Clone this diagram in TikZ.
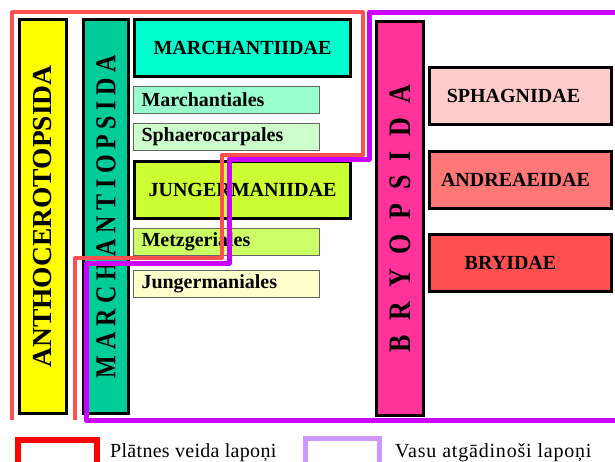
\documentclass[tikz,border=0pt]{standalone}
\usepackage{fontspec}
\setmainfont{Liberation Serif}
\usetikzlibrary{positioning}
\definecolor{plred}{HTML}{FF5050}
\definecolor{vaspurple}{HTML}{CC00FF}
\definecolor{legred}{HTML}{FF0000}
\definecolor{leglilac}{HTML}{CC99FF}
\definecolor{anthyellow}{HTML}{FFFF00}
\definecolor{marchteal}{HTML}{00CC99}
\definecolor{marchaqua}{HTML}{00FFCC}
\definecolor{marchlight}{HTML}{99FFCC}
\definecolor{sphaerolight}{HTML}{CCFFCC}
\definecolor{jungerlime}{HTML}{CCFF33}
\definecolor{metzglime}{HTML}{CCFF66}
\definecolor{jungcream}{HTML}{FFFFCC}
\definecolor{bryopink}{HTML}{FF3399}
\definecolor{sphagnpink}{HTML}{FFCCCC}
\definecolor{andresalmon}{HTML}{FF7777}
\definecolor{bryired}{HTML}{FF5050}
\tikzset{
  classbox/.style={draw=black, line width=3pt, inner sep=0pt, font=\fontsize{20}{24}\selectfont\bfseries},
  ordbox/.style={draw=black!60, line width=1pt, inner ysep=0pt, inner xsep=8pt, text width=170pt, align=left, minimum height=27pt, font=\fontsize{20}{24}\selectfont\bfseries},
  tallbox/.style={classbox, rotate=90, minimum width=394pt},
  legtext/.style={anchor=base west, inner sep=0pt, font=\fontsize{20}{24}\selectfont}
}
\newcommand{\spreadword}[2]{\makebox[#1][s]{#2}}
\begin{document}
\begin{tikzpicture}[x=1pt,y=-1pt]
\clip (0,0) rectangle (615,461);
\fill[white] (0,0) rectangle (615,461);
% classes
\node[tallbox, fill=anthyellow, minimum height=47pt, font=\fontsize{27.5}{30}\selectfont\bfseries] (anth) at (43,216.5) {ANTHOCEROTOPSIDA};
\node[tallbox, fill=marchteal, minimum height=45pt] (marchopsida) at (106,216.5)
  {\fontsize{24}{28}\selectfont\scalebox{1}[1.2]{\spreadword{323pt}{M\hfil A\hfil R\hfil C\hfil H\hfil A\hfil N\hfil T\hfil I\hfil O\hfil P\hfil S\hfil I\hfil D\hfil A}}};
\node[tallbox, fill=bryopink, minimum height=47pt] (bryopsida) at (400,218.5)
  {\fontsize{26}{30}\selectfont\scalebox{1}[1.2]{\spreadword{267pt}{B\hfil R\hfil Y\hfil O\hfil P\hfil S\hfil I\hfil D\hfil A}}};
% subclasses and orders
\node[classbox, fill=marchaqua, minimum width=216pt, minimum height=57pt] (marchidae) at (242.5,48) {MARCHANTIIDAE};
\node[ordbox, fill=marchlight] (marchales) at (226.5,100) {Marchantiales};
\node[ordbox, fill=sphaerolight] (sphaero) at (226.5,137) {Sphaerocarpales};
\node[classbox, fill=jungerlime, minimum width=216pt, minimum height=57pt] (jungidae) at (242.5,190) {JUNGERMANIIDAE};
\node[ordbox, fill=metzglime] (metzg) at (226.5,241.5) {Metzgeriales};
\node[ordbox, fill=jungcream] (jungales) at (226.5,283.5) {Jungermaniales};
\node[classbox, fill=sphagnpink, minimum width=182pt, minimum height=57pt] (sphagn) at (520.5,96) {\hspace*{-14pt}SPHAGNIDAE};
\node[classbox, fill=andresalmon, minimum width=182pt, minimum height=57pt] (andre) at (520.5,180) {\hspace*{-10pt}ANDREAEIDAE};
\node[classbox, fill=bryired, minimum width=182pt, minimum height=57pt] (bryidae) at (520.5,263) {\hspace*{-20pt}BRYIDAE};
% leaf outlines
\draw[plred, line width=4pt, line join=round] (12,420) -- (12,12) -- (363,12) -- (363,155) -- (222,155) -- (222,258) -- (75,258) -- (75,420);
\draw[vaspurple, line width=5pt, line join=round] (618,12) -- (369,12) -- (369,159) -- (229,159) -- (229,263) -- (86,263) -- (86,420) -- (618,420);
% legend
\draw[legred, line width=6pt] (18,440) rectangle (97,470);
\node[legtext] (platnes) at (110,457) {\addfontfeatures{LetterSpace=1.5}Plātnes veida lapoņi};
\draw[leglilac, line width=5pt] (305.5,438.5) rectangle (379.5,470);
\node[legtext] (vasu) at (395,457) {\addfontfeatures{LetterSpace=4}Vasu atgādinoši lapoņi};
\end{tikzpicture}
\end{document}
